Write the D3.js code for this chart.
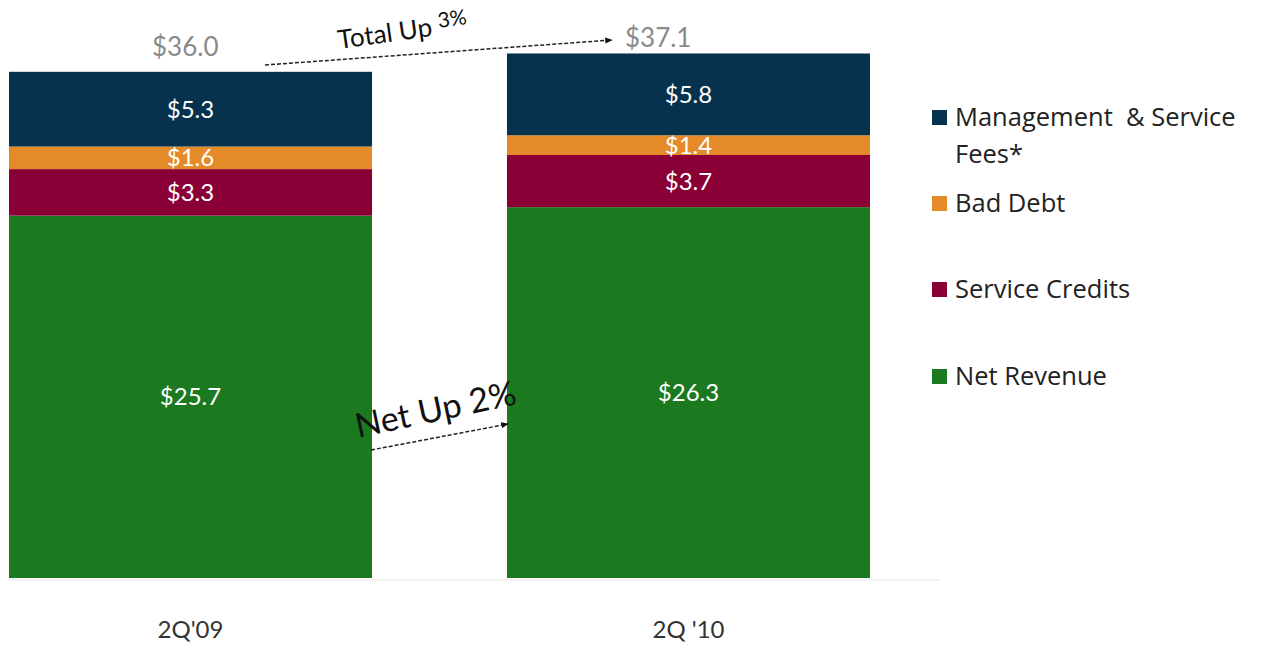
<!DOCTYPE html>
<head>
<meta charset="utf-8">
<style>
  body { margin:0; background:#fff; }
  text { font-family: Lato, "Open Sans", sans-serif; }
  .seglabel { fill:#fff; font-size:24px; text-anchor:middle; }
  .total { fill:#8a8a8a; font-size:26px; }
  .cat { fill:#333; font-size:24px; text-anchor:middle; }
  .legend text { fill:#222; font-size:25.5px; font-family:"Open Sans", sans-serif; white-space:pre; }
  .note { fill:#111; }
</style>
</head>
<body>
<script src="https://cdnjs.cloudflare.com/ajax/libs/d3/7.8.5/d3.min.js"></script>
<script>

var width = 1261,
    height = 646;

// data
var quarters = ["2Q'09", "2Q '10"];
var seriesNames = ["Net Revenue", "Service Credits", "Bad Debt", "Management  & Service Fees*"];
var netRevenue = [25.7, 26.3];
var serviceCredits = [3.3, 3.7];
var badDebt = [1.6, 1.4];
var mgmtFees = [5.3, 5.8];
var totals = [36.0, 37.1];
var colors = ["#1b7a20", "#8a0036", "#e48a28", "#07324d"];

var rows = quarters.map(function(q, i) {
  return { q: q, "Net Revenue": netRevenue[i], "Service Credits": serviceCredits[i],
           "Bad Debt": badDebt[i], "Management  & Service Fees*": mgmtFees[i] };
});

var stack = d3.stack().keys(seriesNames);
var layers = stack(rows);

var x = d3.scaleBand()
    .domain(quarters)
    .range([9, 870])
    .paddingInner(0.271)
    .paddingOuter(0);

var y = d3.scaleLinear()
    .domain([0, 38])
    .range([578, 578 - 14.1 * 38]);

var svg = d3.select("body").append("svg")
    .attr("width", width)
    .attr("height", height);

// faint floor
svg.append("line")
    .attr("x1", 9).attr("x2", 940)
    .attr("y1", y(0) + 2).attr("y2", y(0) + 2)
    .style("stroke", "#eef3ee").style("stroke-width", 2);

var layer = svg.selectAll(".layer")
    .data(layers)
    .enter().append("g")
    .attr("class", "layer")
    .style("fill", function(d, i) { return colors[i]; });

layer.selectAll("rect")
    .data(function(d) { return d; })
    .enter().append("rect")
    .attr("x", function(d) { return x(d.data.q); })
    .attr("y", function(d) { return y(d[1]); })
    .attr("height", function(d) { return y(d[0]) - y(d[1]); })
    .attr("width", x.bandwidth());

layer.selectAll(".seglabel")
    .data(function(d) { return d; })
    .enter().append("text")
    .attr("class", "seglabel")
    .attr("x", function(d) { return x(d.data.q) + x.bandwidth() / 2; })
    .attr("y", function(d) { return (y(d[0]) + y(d[1])) / 2; })
    .attr("dy", "0.36em")
    .text(function(d) { return "$" + (d[1] - d[0]).toFixed(1); });

// totals
svg.selectAll(".total")
    .data(totals)
    .enter().append("text")
    .attr("class", "total")
    .attr("x", function(d, i) { return x(quarters[i]) + (i == 0 ? 143 : 118); })
    .attr("y", function(d, i) { return y(d) - (i == 0 ? 14 : 8); })
    .text(function(d) { return "$" + d.toFixed(1); });

// category labels
svg.selectAll(".cat")
    .data(quarters)
    .enter().append("text")
    .attr("class", "cat")
    .attr("x", function(d) { return x(d) + x.bandwidth() / 2; })
    .attr("y", 638)
    .text(function(d) { return d; });

// arrows
var defs = svg.append("defs");
defs.append("marker")
    .attr("id", "arrow")
    .attr("viewBox", "0 0 10 10")
    .attr("refX", 9).attr("refY", 5)
    .attr("markerWidth", 5).attr("markerHeight", 5)
    .attr("orient", "auto")
    .append("path")
    .attr("d", "M0,1L10,5L0,9z")
    .style("fill", "#111");

function arrow(x1, y1, x2, y2) {
  svg.append("line")
    .attr("x1", x1).attr("y1", y1)
    .attr("x2", x2).attr("y2", y2)
    .style("stroke", "#222")
    .style("stroke-width", 1.5)
    .style("stroke-dasharray", "4,2")
    .attr("marker-end", "url(#arrow)");
}

arrow(265, 65, 612, 40);
arrow(371, 450, 508, 424);

svg.append("text")
    .attr("class", "note")
    .attr("transform", "translate(339,49) rotate(-8)")
    .style("font-size", "26px")
    .html('Total Up <tspan dy="-7" style="font-size:21px">3%</tspan>');

svg.append("text")
    .attr("class", "note")
    .attr("transform", "translate(358,438) rotate(-12)")
    .style("font-size", "34px")
    .text("Net Up 2%");

// legend
var legendItems = [
  { name: ["Management  & Service", "Fees*"], color: colors[3], y: 117 },
  { name: ["Bad Debt"], color: colors[2], y: 203 },
  { name: ["Service Credits"], color: colors[1], y: 289 },
  { name: ["Net Revenue"], color: colors[0], y: 376 }
];

var legend = svg.append("g").attr("class", "legend");
var li = legend.selectAll("g")
    .data(legendItems)
    .enter().append("g")
    .attr("transform", function(d) { return "translate(932," + d.y + ")"; });

li.append("rect")
    .attr("x", 0).attr("y", -7)
    .attr("width", 15).attr("height", 15)
    .style("fill", function(d) { return d.color; });

li.append("text")
    .attr("x", 23)
    .each(function(d) {
      var t = d3.select(this);
      d.name.forEach(function(s, k) {
        t.append("tspan").attr("x", 23).attr("dy", k == 0 ? "0.35em" : "1.45em").text(s);
      });
    });

</script>
</body>
